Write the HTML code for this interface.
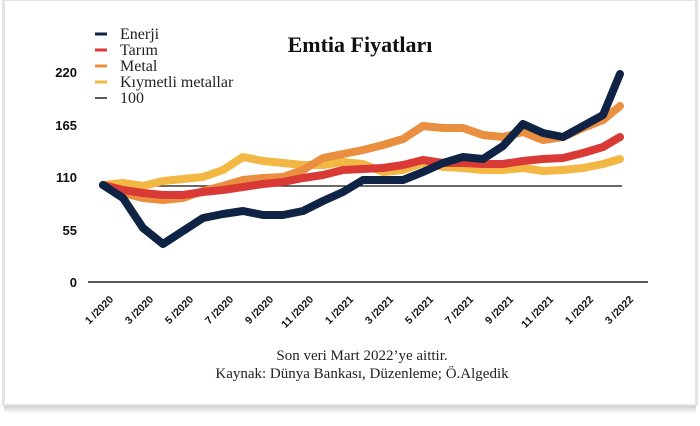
<!DOCTYPE html>
<html><head><meta charset="utf-8"><style>
html,body{margin:0;padding:0;width:700px;height:426px;background:#fff;overflow:hidden}
</style></head><body>
<svg width="700" height="426" viewBox="0 0 700 426" xmlns="http://www.w3.org/2000/svg" font-family="'Liberation Serif', serif">
<defs>
<linearGradient id="sh" x1="0" y1="0" x2="0" y2="1"><stop offset="0" stop-color="#999"/><stop offset="1" stop-color="#fff" stop-opacity="0"/></linearGradient>
</defs>
<rect x="4" y="402" width="692" height="14" fill="url(#sh)"/>
<rect x="2" y="0" width="696" height="406" fill="#e4e4e4"/>
<rect x="5" y="1" width="690" height="403" fill="#fff"/>
<text x="360" y="52" text-anchor="middle" font-size="22" font-weight="bold" fill="#111">Emtia Fiyatları</text>
<g font-family="'Liberation Sans', sans-serif" font-size="13" font-weight="bold" fill="#111" text-anchor="end">
<text x="77" y="77">220</text><text x="77" y="130">165</text><text x="77" y="182">110</text><text x="77" y="235">55</text><text x="77" y="287">0</text>
</g>
<line x1="88" y1="282" x2="648" y2="282" stroke="#222" stroke-width="1.5"/>
<line x1="103" y1="186" x2="622" y2="186" stroke="#111" stroke-width="1.2"/>
<g fill="none" stroke-linecap="round" stroke-linejoin="round" stroke-width="8">
<polyline stroke="#f2b843" points="103,185 123,183 143,186 163,181 183,179 203,177 223,170 243,157 263,161 283,163 303,165 323,165 343,162 363,164 383,172 403,170 423,163 443,167 463,168 483,170 503,170 523,168 543,171 563,170 583,168 603,164 620,159"/>
<polyline stroke="#e98f3f" points="103,185 123,193 143,198 163,200 183,198 203,191 223,186 243,180 263,178 283,177 303,170 323,158 343,154 363,150 383,145 403,139 423,126 443,128 463,128 483,135 503,137 523,132 543,140 563,137 583,128 603,120 620,106"/>
<polyline stroke="#d93a35" points="103,185 123,190 143,193 163,195 183,195 203,192 223,190 243,187 263,184 283,182 303,178 323,175 343,170 363,169 383,168 403,165 423,160 443,163 463,163 483,164 503,164 523,161 543,159 563,158 583,153 603,147 620,137"/>
<polyline stroke="#0f2445" points="103,185 123,198 143,228 163,244 183,231 203,218 223,214 243,211 263,215 283,215 303,211 323,201 343,192 363,180 383,180 403,180 423,172 443,163 463,157 483,159 503,146 523,124 543,133 563,137 583,126 603,115 620,74"/>
</g>
<g stroke-width="3">
<line x1="95" y1="34" x2="107" y2="34" stroke="#0f2445"/>
<line x1="95" y1="50" x2="107" y2="50" stroke="#d93a35"/>
<line x1="95" y1="66" x2="107" y2="66" stroke="#e98f3f"/>
<line x1="95" y1="82" x2="107" y2="82" stroke="#f2b843"/>
<line x1="95" y1="98" x2="107" y2="98" stroke="#222" stroke-width="1.5"/>
</g>
<g font-size="16" fill="#222">
<text x="120" y="39">Enerji</text><text x="120" y="55">Tarım</text><text x="120" y="71">Metal</text><text x="120" y="87">Kıymetli metallar</text><text x="120" y="103">100</text>
</g>
<g font-family="'Liberation Sans', sans-serif" font-size="10.5" font-weight="bold" fill="#111" text-anchor="end">
<text transform="translate(114,300) rotate(-45)">1 /2020</text>
<text transform="translate(154,300) rotate(-45)">3 /2020</text>
<text transform="translate(194,300) rotate(-45)">5 /2020</text>
<text transform="translate(234,300) rotate(-45)">7 /2020</text>
<text transform="translate(274,300) rotate(-45)">9 /2020</text>
<text transform="translate(314,300) rotate(-45)">11 /2020</text>
<text transform="translate(354,300) rotate(-45)">1 /2021</text>
<text transform="translate(394,300) rotate(-45)">3 /2021</text>
<text transform="translate(434,300) rotate(-45)">5 /2021</text>
<text transform="translate(474,300) rotate(-45)">7 /2021</text>
<text transform="translate(514,300) rotate(-45)">9 /2021</text>
<text transform="translate(554,300) rotate(-45)">11 /2021</text>
<text transform="translate(594,300) rotate(-45)">1 /2022</text>
<text transform="translate(634,300) rotate(-45)">3 /2022</text>
</g>
<g font-size="15" fill="#222" text-anchor="middle">
<text x="362" y="360">Son veri Mart 2022’ye aittir.</text>
<text x="362" y="378">Kaynak: Dünya Bankası, Düzenleme; Ö.Algedik</text>
</g>
</svg>
</body></html>
